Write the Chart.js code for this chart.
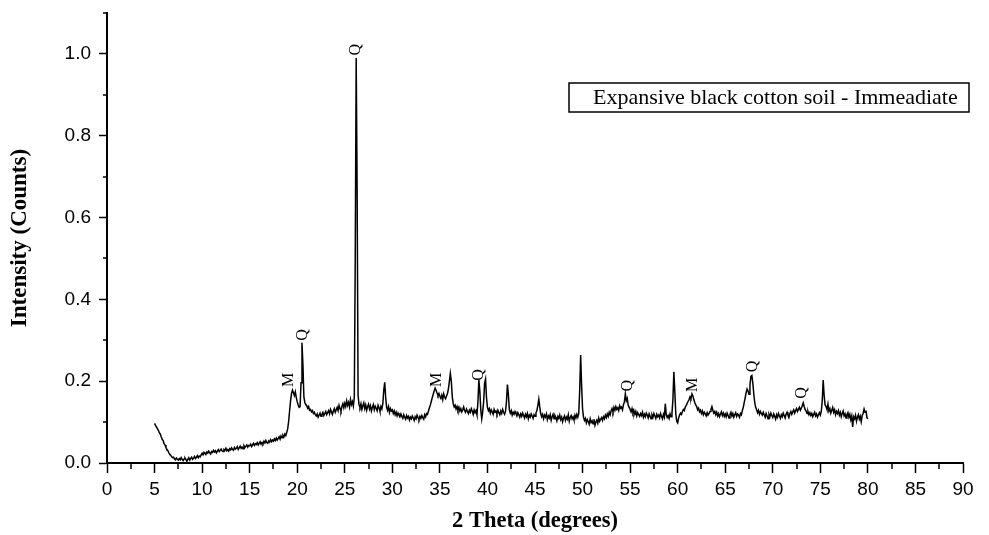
<!DOCTYPE html>
<html>
<head>
<meta charset="utf-8">
<script src="https://cdn.jsdelivr.net/npm/chart.js@4/dist/chart.umd.min.js"></script>
<style>
  html, body { margin: 0; padding: 0; background: #fff; }
  canvas { display: block; }
</style>
</head>
<body>
<canvas id="xrd" width="989" height="535"></canvas>
<script>
// scan: 5.0 - 80.0 deg 2theta, 0.1 deg step; intensities are relative counts x 1000
const scanStart = 5.0;
const scanStep = 0.1;

const counts05 = [97, 92, 88, 84, 80, 74, 71, 64, 58, 55, 47, 44, 38, 33, 30, 25, 21, 19, 15, 13,
  14, 10, 8, 12, 9, 7, 11, 8, 13, 9, 6, 10, 12, 8, 4, 9, 13, 7, 11, 14,
  9, 12, 16, 11, 14, 18, 13, 17, 15, 20];
const counts10 = [24, 20, 26, 23, 21, 27, 24, 29, 25, 22, 28, 26, 31, 27, 30, 25, 29, 33, 28, 31,
  34, 30, 28, 33, 31, 36, 30, 33, 29, 35, 32, 37, 33, 31, 38, 34, 36, 40, 33, 37,
  41, 36, 39, 35, 42, 38, 41, 44, 39, 43];
const counts15 = [42, 46, 40, 44, 48, 43, 47, 45, 50, 44, 48, 52, 46, 50, 47, 53, 49, 55, 50, 48,
  54, 51, 57, 52, 56, 53, 59, 55, 61, 56, 60, 64, 58, 66, 62, 68, 64, 71, 67, 75,
  84, 102, 128, 152, 170, 178, 172, 165, 174, 160];
const counts20 = [150, 142, 136, 138, 196, 294, 240, 162, 148, 143, 140, 134, 138, 129, 131, 125, 128, 121, 124, 118,
  115, 120, 112, 117, 122, 114, 119, 124, 116, 121, 126, 118, 123, 128, 120, 131, 125, 119, 127, 133,
  124, 130, 136, 128, 141, 133, 127, 138, 145, 135];
const counts25 = [146, 138, 152, 141, 148, 137, 155, 143, 150, 139, 160, 500, 990, 660, 165, 142, 136, 145, 131, 140,
  147, 133, 142, 129, 138, 144, 132, 140, 127, 136, 143, 130, 139, 134, 128, 141, 135, 126, 138, 132,
  145, 178, 197, 160, 136, 129, 138, 124, 133, 127];
const counts30 = [130, 121, 127, 118, 124, 115, 122, 117, 113, 120, 114, 109, 118, 112, 107, 116, 110, 114, 105, 112,
  108, 115, 110, 104, 113, 108, 117, 111, 106, 114, 109, 116, 111, 107, 118, 113, 121, 119, 127, 135,
  142, 151, 160, 168, 176, 183, 178, 171, 165, 170];
const counts35 = [163, 158, 166, 155, 169, 161, 157, 164, 170, 182, 200, 219, 200, 162, 145, 137, 141, 132, 138, 129,
  136, 127, 133, 125, 130, 137, 128, 124, 132, 126, 121, 129, 124, 133, 127, 119, 130, 123, 128, 118,
  150, 203, 175, 130, 108, 125, 150, 195, 205, 160];
const counts40 = [136, 128, 133, 122, 130, 125, 119, 131, 124, 127, 120, 129, 123, 118, 127, 121, 131, 124, 119, 126,
  150, 192, 168, 131, 122, 128, 117, 124, 119, 126, 121, 115, 123, 118, 112, 120, 114, 122, 116, 110,
  119, 113, 121, 108, 117, 112, 120, 115, 109, 118];
const counts45 = [114, 122, 128, 141, 156, 137, 121, 113, 119, 108, 117, 112, 120, 106, 115, 110, 118, 104, 113, 119,
  108, 116, 111, 103, 114, 109, 117, 106, 112, 101, 110, 115, 104, 112, 107, 118, 102, 111, 116, 108,
  113, 105, 117, 110, 119, 112, 121, 178, 264, 190];
const counts50 = [132, 112, 104, 109, 98, 106, 101, 95, 108, 99, 103, 96, 107, 92, 100, 105, 97, 110, 102, 107,
  111, 104, 113, 108, 117, 111, 120, 114, 124, 118, 127, 133, 125, 136, 129, 138, 131, 135, 128, 140,
  134, 137, 130, 142, 150, 169, 152, 158, 141, 136];
const counts55 = [131, 125, 133, 122, 128, 119, 126, 115, 123, 118, 114, 121, 116, 124, 112, 119, 113, 122, 117, 110,
  120, 114, 108, 118, 112, 121, 115, 109, 119, 113, 117, 110, 121, 114, 108, 119, 112, 145, 118, 111,
  116, 109, 120, 113, 122, 155, 223, 175, 121, 102];
const counts60 = [98, 110, 117, 122, 119, 126, 131, 128, 137, 141, 146, 151, 155, 162, 158, 169, 164, 155, 148, 142,
  138, 130, 134, 125, 129, 121, 127, 118, 124, 120, 115, 123, 117, 121, 126, 131, 138, 129, 122, 126,
  118, 124, 115, 121, 113, 119, 125, 116, 122, 114];
const counts65 = [120, 113, 122, 116, 110, 119, 124, 115, 121, 112, 118, 123, 114, 120, 117, 112, 121, 118, 128, 136,
  148, 160, 172, 181, 176, 168, 190, 212, 214, 196, 170, 148, 136, 130, 123, 129, 119, 126, 121, 117,
  124, 118, 112, 121, 115, 108, 119, 113, 122, 116];
const counts70 = [111, 120, 114, 107, 118, 112, 121, 115, 109, 118, 113, 122, 116, 110, 119, 124, 117, 112, 121, 126,
  119, 125, 130, 122, 128, 133, 126, 131, 136, 129, 134, 140, 147, 138, 131, 127, 121, 126, 118, 123,
  116, 121, 113, 119, 124, 115, 120, 112, 118, 123];
const counts75 = [117, 126, 152, 203, 165, 142, 138, 131, 144, 127, 133, 122, 129, 136, 124, 130, 118, 126, 121, 128,
  117, 124, 113, 121, 127, 115, 120, 110, 118, 123, 112, 119, 106, 115, 88, 113, 108, 117, 102, 112,
  118, 107, 114, 101, 116, 121, 132, 124, 128, 111, 108];

// phase markers (Q = quartz, M = montmorillonite)
const peakNames = ['M', 'Q', 'Q', 'M', 'Q', 'Q', 'M', 'Q', 'Q'];
const peakTheta = [19.1, 20.55, 26.2, 34.7, 39.1, 54.8, 61.55, 67.9, 73.0];
const peakLabelY = [0.203, 0.313, 1.01, 0.203, 0.215, 0.189, 0.191, 0.236, 0.171];

const seriesName = 'Expansive black cotton soil - Immeadiate';

const counts = [].concat(counts05, counts10, counts15, counts20, counts25, counts30, counts35,
  counts40, counts45, counts50, counts55, counts60, counts65, counts70, counts75);
const points = counts.map((c, i) => ({ x: +(scanStart + i * scanStep).toFixed(1), y: c / 1000 }));

const tickFont = { family: '"Liberation Sans", Arial, sans-serif', size: 19 };
const serif = '"Liberation Serif", "Times New Roman", serif';

const xrdExtras = {
  id: 'xrdExtras',
  afterDraw(chart) {
    const { ctx, chartArea: a, scales: { x, y } } = chart;
    ctx.save();
    ctx.strokeStyle = '#000';
    ctx.lineWidth = 1.5;
    ctx.beginPath();
    // minor ticks
    for (let v = 2.5; v < 90; v += 5) {
      const px = Math.round(x.getPixelForValue(v));
      ctx.moveTo(px, a.bottom);
      ctx.lineTo(px, a.bottom + 6);
    }
    for (let v = 0.1; v < 1.15; v += 0.2) {
      const py = Math.round(y.getPixelForValue(v));
      ctx.moveTo(a.left - 4, py);
      ctx.lineTo(a.left, py);
    }
    ctx.stroke();

    // peak labels, written sideways
    ctx.fillStyle = '#000';
    ctx.font = '16px ' + serif;
    ctx.textAlign = 'center';
    ctx.textBaseline = 'middle';
    peakNames.forEach((name, i) => {
      ctx.save();
      ctx.translate(x.getPixelForValue(peakTheta[i]), y.getPixelForValue(peakLabelY[i]));
      ctx.rotate(-Math.PI / 2);
      ctx.fillText(name, 0, 0);
      ctx.restore();
    });

    // legend box
    const boxW = 400, boxH = 29;
    const boxX = a.right + 6 - boxW;
    const boxY = a.top + 70;
    ctx.lineWidth = 1.5;
    ctx.strokeRect(boxX, boxY, boxW, boxH);
    ctx.font = '22px ' + serif;
    ctx.textAlign = 'left';
    ctx.fillText(seriesName, boxX + 24, boxY + boxH / 2 + 1);
    ctx.restore();
  }
};

new Chart(document.getElementById('xrd'), {
  type: 'line',
  data: {
    datasets: [{
      label: seriesName,
      data: points,
      borderColor: '#000',
      borderWidth: 1.5,
      pointRadius: 0,
      tension: 0,
      fill: false
    }]
  },
  options: {
    responsive: false,
    animation: false,
    layout: { padding: { top: 13, right: 26, bottom: 0, left: 0 } },
    plugins: {
      legend: { display: false },
      tooltip: { enabled: false }
    },
    scales: {
      x: {
        type: 'linear',
        min: 0,
        max: 90,
        afterFit: (scale) => { scale.height = 72; },
        border: { display: true, color: '#000', width: 2 },
        grid: { drawOnChartArea: false, drawTicks: true, tickLength: 10, tickColor: '#000', tickWidth: 1.5 },
        ticks: { stepSize: 5, color: '#000', font: tickFont, padding: 5, maxRotation: 0, autoSkip: false },
        title: {
          display: true, text: '2 Theta (degrees)', color: '#000',
          font: { family: serif, size: 22.5, weight: 'bold' }, padding: { top: 0, bottom: 0 }
        }
      },
      y: {
        min: 0,
        max: 1.1,
        afterFit: (scale) => {
          scale.width = 107;
          scale.paddingTop = 0;
          scale.paddingBottom = 0;
        },
        border: { display: true, color: '#000', width: 2 },
        grid: { drawOnChartArea: false, drawTicks: true, tickLength: 8, tickColor: '#000', tickWidth: 1.5 },
        ticks: {
          stepSize: 0.2,
          includeBounds: false,
          color: '#000',
          font: tickFont,
          padding: 8,
          callback: (v) => v.toFixed(1)
        },
        title: {
          display: true, text: 'Intensity (Counts)', color: '#000',
          font: { family: serif, size: 23, weight: 'bold' }, padding: { top: 6, bottom: 0 }
        }
      }
    }
  },
  plugins: [xrdExtras]
});
</script>
</body>
</html>
